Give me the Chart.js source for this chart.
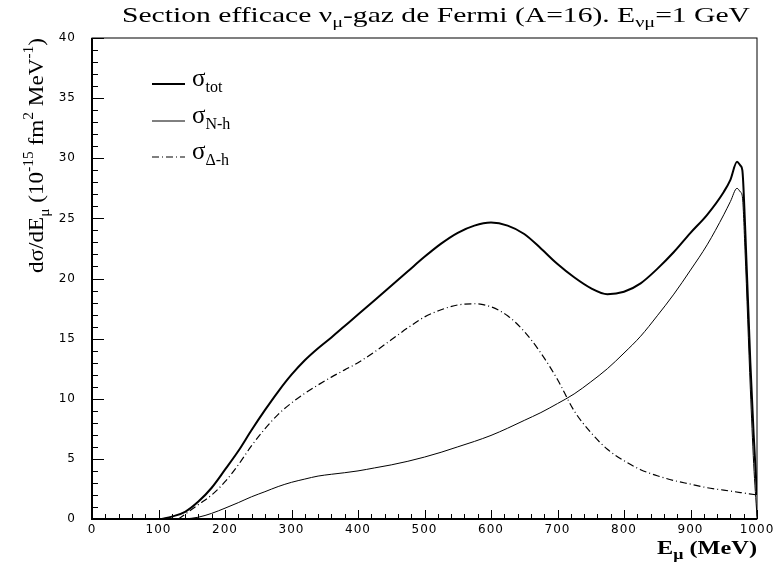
<!DOCTYPE html>
<html>
<head>
<meta charset="utf-8">
<script src="https://cdn.jsdelivr.net/npm/chart.js@4.4.1/dist/chart.umd.min.js"></script>
<style>
  html, body { margin: 0; padding: 0; background: #fff; }
  #wrap { width: 780px; height: 566px; }
</style>
</head>
<body>
<div id="wrap"><canvas id="chart" width="780" height="566"></canvas></div>
<script>
// values (E in MeV, dsigma/dE in 1e-15 fm^2 MeV^-1)
const totE = [105, 120, 140, 160, 180, 200, 220, 240, 260, 280, 300, 320, 340, 360, 380, 400, 425, 450, 475, 500, 525, 550, 575, 600, 625, 650, 675, 700, 725, 750, 775, 800, 825, 850, 875, 900, 925, 950, 960, 970, 975, 978, 982, 990, 995, 1000];
const totVal = [0, 0.2, 0.6, 1.45, 2.6, 4.1, 5.65, 7.4, 9.05, 10.6, 12.0, 13.2, 14.2, 15.1, 16.05, 17.0, 18.2, 19.4, 20.6, 21.8, 22.9, 23.8, 24.4, 24.65, 24.4, 23.7, 22.5, 21.2, 20.1, 19.2, 18.7, 18.9, 19.6, 20.8, 22.2, 23.8, 25.3, 27.2, 28.2, 29.7, 29.4, 29.0, 24.5, 13.0, 7.0, 2.0];

const nhE = [140, 160, 180, 200, 220, 240, 260, 280, 300, 320, 340, 360, 380, 400, 425, 450, 475, 500, 525, 550, 575, 600, 625, 650, 675, 700, 725, 750, 775, 800, 825, 850, 875, 900, 925, 950, 960, 970, 975, 978, 982, 990, 995, 1000];
const nhVal = [0, 0.15, 0.47, 0.9, 1.36, 1.85, 2.27, 2.7, 3.05, 3.32, 3.57, 3.72, 3.85, 4.0, 4.25, 4.5, 4.8, 5.15, 5.55, 6.0, 6.45, 6.95, 7.55, 8.2, 8.85, 9.6, 10.4, 11.4, 12.5, 13.8, 15.2, 16.9, 18.7, 20.7, 22.8, 25.3, 26.4, 27.5, 27.2, 26.8, 22.3, 10.8, 4.6, 0.2];

const dhE = [130, 140, 160, 180, 200, 220, 240, 260, 280, 300, 320, 340, 360, 380, 400, 425, 450, 475, 500, 525, 550, 575, 600, 625, 650, 675, 700, 725, 750, 775, 800, 825, 850, 875, 900, 925, 950, 975, 1000];
const dhVal = [0, 0.4, 1.2, 2.0, 3.1, 4.5, 6.1, 7.5, 8.7, 9.65, 10.45, 11.15, 11.8, 12.4, 13.0, 13.9, 14.9, 15.9, 16.8, 17.4, 17.8, 17.9, 17.65, 16.9, 15.6, 13.8, 11.6, 9.0, 7.2, 5.8, 4.85, 4.1, 3.6, 3.2, 2.9, 2.6, 2.4, 2.2, 2.0];

const xTicks = [0, 100, 200, 300, 400, 500, 600, 700, 800, 900, 1000];
const yTicks = [0, 5, 10, 15, 20, 25, 30, 35, 40];

const toPoints = (xs, ys) => xs.map((x, i) => ({ x: x, y: ys[i] }));

// draws a list of text runs (with sub/superscripts) on one baseline, optionally fitted to a width
function drawRuns(ctx, runs, x, y, width) {
    let natural = 0;
    runs.forEach(r => { ctx.font = r.font; natural += ctx.measureText(r.t).width; });
    const sx = width ? width / natural : 1;
    ctx.save();
    ctx.translate(x, y);
    ctx.scale(sx, 1);
    let cx = 0;
    runs.forEach(r => {
        ctx.font = r.font;
        ctx.fillText(r.t, cx, r.dy || 0);
        cx += ctx.measureText(r.t).width;
    });
    ctx.restore();
}

const SERIF = '"Liberation Serif", "DejaVu Serif", serif';
const big = s => s + 'px ' + SERIF;

const decor = {
    id: 'decor',
    afterDraw(chart) {
        const ctx = chart.ctx;
        const a = chart.chartArea;
        const xs = chart.scales.x, ys = chart.scales.y;
        ctx.save();
        ctx.strokeStyle = '#000';
        ctx.fillStyle = '#000';

        // frame
        ctx.lineWidth = 1;
        ctx.strokeRect(a.left, a.top, a.right - a.left, a.bottom - a.top);
        ctx.lineWidth = 2;
        ctx.beginPath();
        ctx.moveTo(a.left, a.top);
        ctx.lineTo(a.left, a.bottom);
        ctx.lineTo(a.right, a.bottom);
        ctx.stroke();

        // inward ticks
        ctx.lineWidth = 1;
        ctx.beginPath();
        for (let v = 0; v <= 1000; v += 20) {
            const px = Math.round(xs.getPixelForValue(v)) + 0.5;
            const len = v % 100 === 0 ? 9 : 5;
            ctx.moveTo(px, a.bottom);
            ctx.lineTo(px, a.bottom - len);
        }
        for (let v = 0; v <= 40; v += 1) {
            const py = Math.round(ys.getPixelForValue(v)) + 0.5;
            const len = v % 5 === 0 ? 12 : 6;
            ctx.moveTo(a.left, py);
            ctx.lineTo(a.left + len, py);
        }
        ctx.stroke();

        // tick labels
        ctx.font = '12px "DejaVu Sans"';
        ctx.letterSpacing = '1px';
        ctx.textBaseline = 'middle';
        ctx.textAlign = 'center';
        xTicks.forEach(v => ctx.fillText(String(v), xs.getPixelForValue(v), 530));
        ctx.textAlign = 'right';
        yTicks.forEach(v => ctx.fillText(String(v), 76, ys.getPixelForValue(v)));
        ctx.letterSpacing = '0px';

        // title
        ctx.textAlign = 'left';
        ctx.textBaseline = 'alphabetic';
        drawRuns(ctx, [
            { t: 'Section efficace \u03bd', font: big(22) },
            { t: '\u03bc', font: big(15), dy: 5 },
            { t: '-gaz de Fermi (A=16). E', font: big(22) },
            { t: '\u03bd\u03bc', font: big(15), dy: 5 },
            { t: '=1 GeV', font: big(22) }
        ], 122, 22, 628);

        // x axis title
        drawRuns(ctx, [
            { t: 'E', font: 'bold ' + big(19) },
            { t: '\u03bc', font: 'bold ' + big(14), dy: 5 },
            { t: ' (MeV)', font: 'bold ' + big(19) }
        ], 657, 554, 100);

        // y axis title
        ctx.save();
        ctx.translate(43, 273);
        ctx.rotate(-Math.PI / 2);
        drawRuns(ctx, [
            { t: 'd\u03c3/dE', font: big(21) },
            { t: '\u03bc', font: big(14), dy: 6 },
            { t: ' (10', font: big(21) },
            { t: '-15', font: big(14), dy: -10 },
            { t: ' fm', font: big(21) },
            { t: '2', font: big(14), dy: -10 },
            { t: ' MeV', font: big(21) },
            { t: '-1', font: big(14), dy: -10 },
            { t: ')', font: big(21) }
        ], 0, 0, 235);
        ctx.restore();

        // legend
        const items = [
            { y: 84, w: 2, dash: [], sub: 'tot' },
            { y: 121, w: 1, dash: [], sub: 'N-h' },
            { y: 157, w: 1.2, dash: [7, 3, 1, 3], sub: '\u0394-h' }
        ];
        items.forEach(it => {
            ctx.lineWidth = it.w;
            ctx.setLineDash(it.dash);
            ctx.beginPath();
            ctx.moveTo(152, it.y);
            ctx.lineTo(185, it.y);
            ctx.stroke();
            ctx.setLineDash([]);
            drawRuns(ctx, [
                { t: '\u03c3', font: big(25) },
                { t: it.sub, font: big(16), dy: 6 }
            ], 192, it.y + 2);
        });
        ctx.restore();
    }
};

new Chart(document.getElementById('chart'), {
    type: 'line',
    data: {
        datasets: [
            { label: 'sigma tot', data: toPoints(totE, totVal), borderColor: '#000', borderWidth: 2, pointRadius: 0, cubicInterpolationMode: 'monotone', fill: false },
            { label: 'sigma N-h', data: toPoints(nhE, nhVal), borderColor: '#000', borderWidth: 1, pointRadius: 0, cubicInterpolationMode: 'monotone', fill: false },
            { label: 'sigma Delta-h', data: toPoints(dhE, dhVal), borderColor: '#000', borderWidth: 1.2, borderDash: [7, 3, 1, 3], pointRadius: 0, cubicInterpolationMode: 'monotone', fill: false }
        ]
    },
    options: {
        responsive: false,
        animation: false,
        devicePixelRatio: 1,
        layout: { padding: { top: 38, right: 23, left: 0, bottom: 0 } },
        plugins: { legend: { display: false }, title: { display: false }, tooltip: { enabled: false } },
        scales: {
            x: {
                type: 'linear', min: 0, max: 1000,
                ticks: { display: false, stepSize: 100 },
                grid: { display: false }, border: { display: false },
                afterFit: s => { s.height = 47; }
            },
            y: {
                min: 0, max: 40,
                ticks: { display: false, stepSize: 5 },
                grid: { display: false }, border: { display: false },
                afterFit: s => { s.width = 92; }
            }
        }
    },
    plugins: [decor]
});
</script>
</body>
</html>
